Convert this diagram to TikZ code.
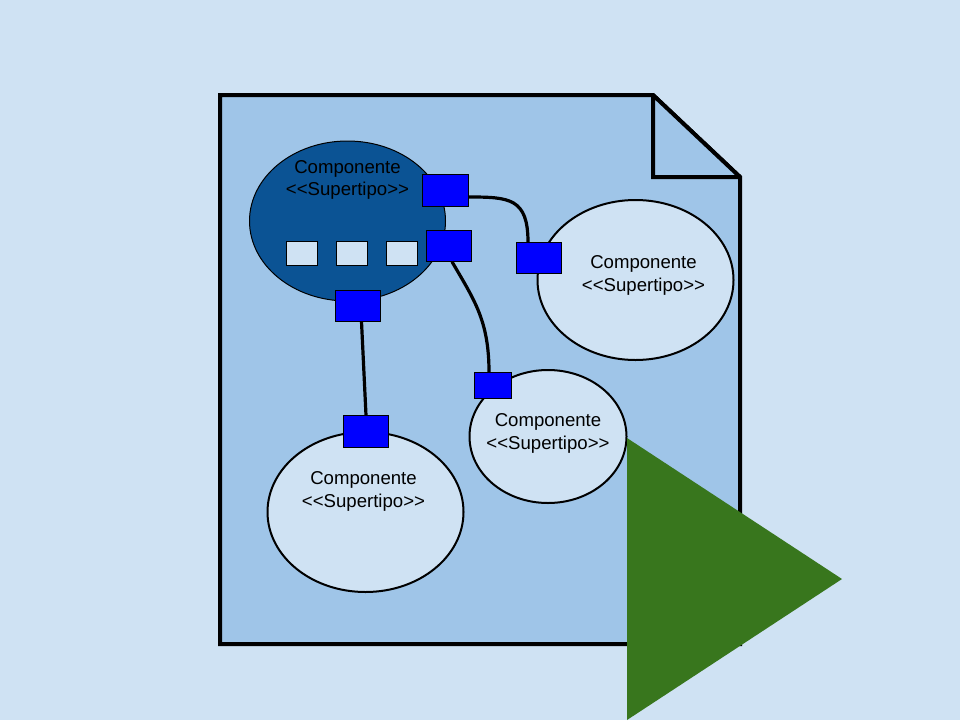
\documentclass[tikz,border=0pt]{standalone}
\usepackage{fontspec}
\setmainfont{Liberation Sans}
\usetikzlibrary{shapes.geometric,calc}
\definecolor{bgblue}{HTML}{CFE2F3}
\definecolor{pageblue}{HTML}{9FC5E8}
\definecolor{darkblue}{HTML}{0B5394}
\definecolor{portblue}{HTML}{0000FF}
\definecolor{playgreen}{HTML}{38761D}
\pgfdeclarelayer{wires}
\pgfdeclarelayer{front}
\pgfsetlayers{wires,main,front}
\tikzset{
  comp/.style={ellipse,draw=black,line width=2pt,fill=bgblue,inner sep=0pt,outer sep=0pt},
  compdark/.style={comp,fill=darkblue,line width=1pt},
  port/.style={rectangle,draw=black,line width=1.2pt,fill=portblue,inner sep=0pt,outer sep=0pt},
  slotbox/.style={rectangle,draw=black,line width=1pt,fill=bgblue,inner sep=0pt,outer sep=0pt,minimum width=31.4pt,minimum height=24pt},
  wire/.style={draw=black,line width=3.2pt},
  sheet/.style={draw=black,line width=4pt,fill=pageblue,line join=miter,miter limit=2},
  lbl/.style={align=center,font=\fontsize{18.6}{22.3}\selectfont,inner sep=0pt,text=black}
}
\newcommand{\stype}{<{}<Supertipo>{}>}
\begin{document}
\begin{tikzpicture}[x=1pt,y=-1pt]
\useasboundingbox (0,0) rectangle (960,720);
\begin{pgfonlayer}{wires}
\fill[bgblue] (0,0) rectangle (960,720);
% sheet
\coordinate (pTL) at (220,95);
\coordinate (pF1) at (653,95);
\coordinate (pF2) at (740,177);
\coordinate (pBR) at (740,644);
\coordinate (pBL) at (220,644);
\coordinate (pFC) at (653,177);
\draw[sheet] (pTL) -- (pF1) -- (pF2) -- (pBR) -- (pBL) -- cycle;
\draw[sheet] (pF1) -- (pF2) -- (pFC) -- cycle;
\end{pgfonlayer}
% components
\node[compdark,minimum width=196pt,minimum height=160pt] (c1) at (347.5,221) {};
\node[comp,minimum width=196pt,minimum height=160pt] (c2) at (635.5,280) {};
\node[comp,minimum width=157pt,minimum height=133pt] (c3) at (548,436.5) {};
\node[comp,minimum width=196pt,minimum height=160pt] (c4) at (365.5,512) {};
% labels
\node[lbl] (t1) at (347.5,180) {Componente\\\stype};
\node[lbl] (t2) at (643.5,275.5) {Componente\\\stype};
\node[lbl] (t3) at (548,433.5) {Componente\\\stype};
\node[lbl] (t4) at (363.5,491.5) {Componente\\\stype};
% slots
\node[slotbox] (s1) at (302,253.3) {};
\node[slotbox] (s2) at (352,253.3) {};
\node[slotbox] (s3) at (402,253.3) {};
\begin{pgfonlayer}{front}
% ports
\node[port,minimum width=46.6pt,minimum height=32pt] (p1) at (445.4,190.3) {};
\node[port,minimum width=45.4pt,minimum height=31.4pt] (p2) at (449,246) {};
\node[port,minimum width=45.4pt,minimum height=31.4pt] (p3) at (358,306) {};
\node[port,minimum width=45.4pt,minimum height=31.4pt] (p4) at (539,258) {};
\node[port,minimum width=45.4pt,minimum height=32.4pt] (p5) at (366,431.5) {};
\node[port,minimum width=37.4pt,minimum height=26pt] (p6) at (493,385.3) {};
% connectors
\coordinate (w1a) at ([yshift=-6.7pt]p1.east);
\coordinate (w1b) at ([xshift=-11pt]p4.north);
\draw[wire] (w1a) .. controls +(41,0) and +(0,-44) .. (w1b);
\coordinate (w2a) at ([xshift=3pt]p2.south);
\coordinate (w2b) at ([xshift=-4pt]p6.north);
\draw[wire] (w2a) .. controls +(22,38) and +(0,-52) .. (w2b);
\coordinate (w3a) at ([xshift=3.5pt]p3.south);
\draw[wire] (w3a) -- (p5.north);
% play triangle
\coordinate (g1) at (627,438);
\coordinate (g2) at (842,579);
\coordinate (g3) at (627,720);
\fill[playgreen] (g1) -- (g2) -- (g3) -- cycle;
\end{pgfonlayer}
\end{tikzpicture}
\end{document}
